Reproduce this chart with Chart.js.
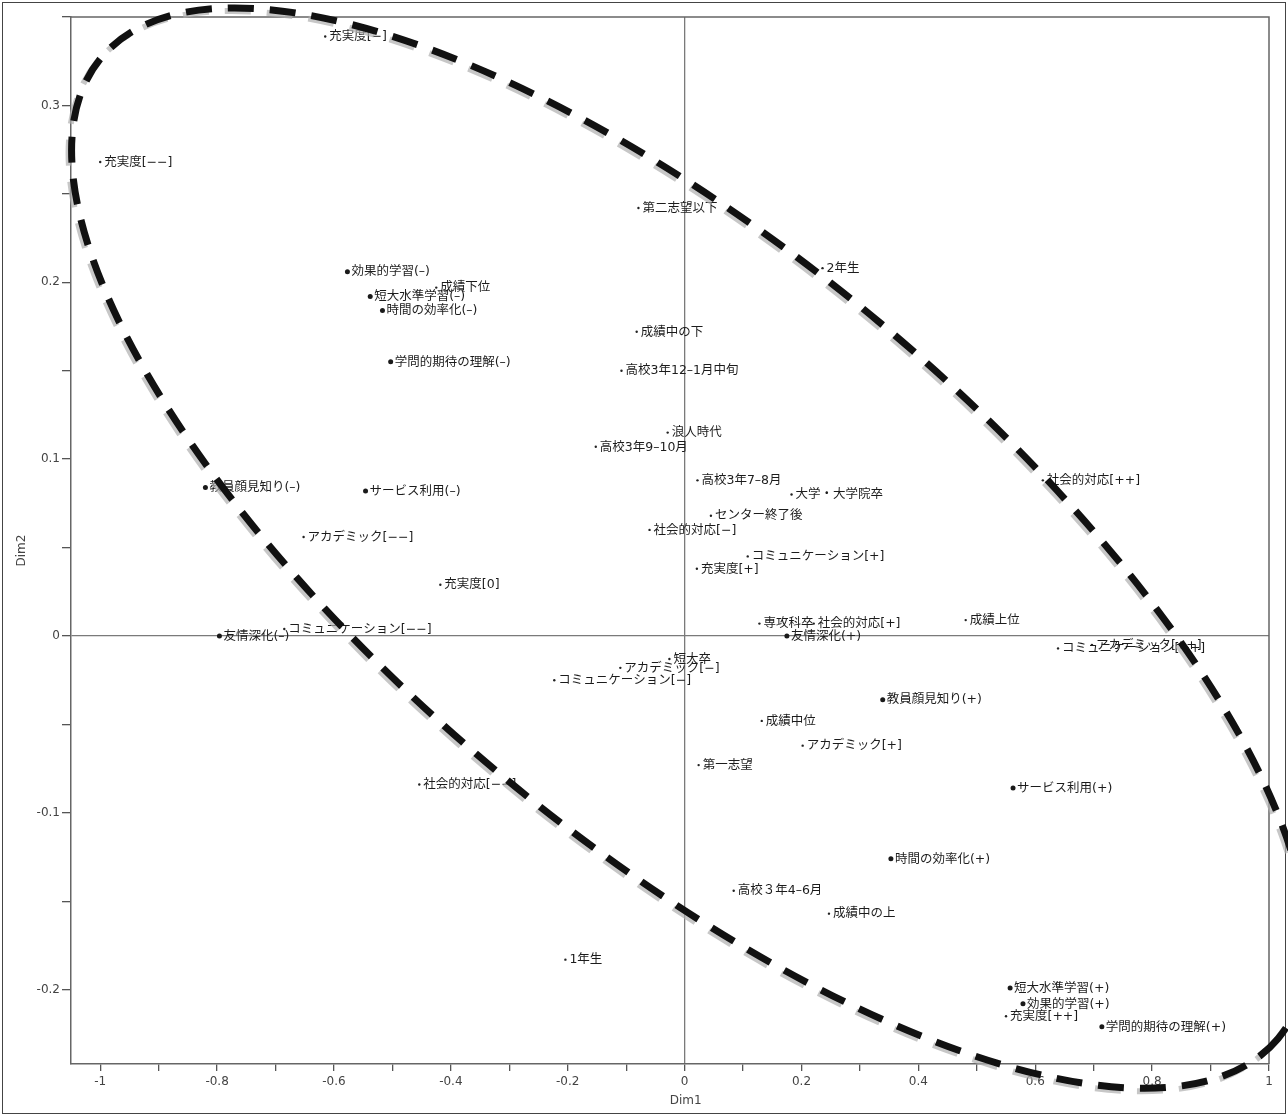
<!DOCTYPE html>
<html><head><meta charset="utf-8">
<script src="https://cdn.jsdelivr.net/npm/chart.js@4/dist/chart.umd.min.js"></script>
<style>
html,body{margin:0;padding:0;background:#fff;}
#wrap{position:relative;width:1288px;height:1115px;}
canvas{display:block;}
</style></head><body>
<div id="wrap"><canvas id="c" width="1288" height="1115"></canvas></div>
<script>
// Active categories (large dots)
const activeNames = ['効果的学習(–)','短大水準学習(–)','時間の効率化(–)','学問的期待の理解(–)','教員顔見知り(–)','サービス利用(–)','友情深化(–)','友情深化(+)','教員顔見知り(+)','サービス利用(+)','時間の効率化(+)','短大水準学習(+)','効果的学習(+)','学問的期待の理解(+)'];
const activeDim1 = [-0.577,-0.538,-0.517,-0.503,-0.820,-0.546,-0.796,0.175,0.339,0.562,0.353,0.557,0.579,0.714];
const activeDim2 = [0.206,0.192,0.184,0.155,0.084,0.082,0.000,0.000,-0.036,-0.086,-0.126,-0.199,-0.208,-0.221];

// Supplementary categories (small dots)
const suppNames = ['充実度[−]','充実度[−−]','第二志望以下','2年生','成績下位','成績中の下','高校3年12–1月中旬','浪人時代','高校3年9–10月','高校3年7–8月','大学・大学院卒','センター終了後','社会的対応[−]','社会的対応[++]','アカデミック[−−]','コミュニケーション[+]','充実度[+]','充実度[0]','成績上位','専攻科卒','社会的対応[+]','コミュニケーション[−−]','コミュニケーション[++]','アカデミック[++]','短大卒','アカデミック[−]','コミュニケーション[−]','成績中位','アカデミック[+]','第一志望','社会的対応[−−]','高校３年4–6月','成績中の上','1年生','充実度[++]'];
const suppDim1 = [-0.615,-1.000,-0.079,0.236,-0.425,-0.082,-0.108,-0.029,-0.152,0.022,0.183,0.045,-0.060,0.613,-0.652,0.108,0.021,-0.418,0.481,0.128,0.221,-0.685,0.639,0.697,-0.026,-0.110,-0.223,0.132,0.202,0.024,-0.454,0.084,0.247,-0.204,0.550];
const suppDim2 = [0.339,0.268,0.242,0.208,0.197,0.172,0.150,0.115,0.107,0.088,0.080,0.068,0.060,0.088,0.056,0.045,0.038,0.029,0.009,0.007,0.007,0.004,-0.007,-0.005,-0.013,-0.018,-0.025,-0.048,-0.062,-0.073,-0.084,-0.144,-0.157,-0.183,-0.215];

const xTicksLabelled = [-1,-0.8,-0.6,-0.4,-0.2,0,0.2,0.4,0.6,0.8,1];
const yTicksLabelled = [-0.2,-0.1,0,0.1,0.2,0.3];

const toPts = (xs, ys) => xs.map((x, i) => ({x: x, y: ys[i]}));
const near = (v, arr) => arr.some(t => Math.abs(t - v) < 1e-6);
const fmt = v => String(Number(v.toFixed(2)));

const LABEL_FONT = '12.5px "DejaVu Sans", "Noto Sans CJK JP", sans-serif';
const TICK_FONT = {family: '"DejaVu Sans", sans-serif', size: 12};

const labelPlugin = {
  id: 'pointLabels',
  afterDatasetsDraw(chart) {
    const ctx = chart.ctx;
    ctx.save();
    ctx.font = LABEL_FONT;
    ctx.fillStyle = '#1c1c1c';
    ctx.textBaseline = 'middle';
    ctx.textAlign = 'left';
    chart.data.datasets.forEach((ds, di) => {
      const meta = chart.getDatasetMeta(di);
      meta.data.forEach((el, i) => {
        ctx.fillText(ds.names[i], el.x + 4, el.y + 0.5);
      });
    });
    ctx.restore();
  }
};

const framePlugin = {
  id: 'frame',
  afterDraw(chart) {
    const ctx = chart.ctx;
    const a = chart.chartArea;
    const xs = chart.scales.x, ys = chart.scales.y;
    ctx.save();
    ctx.strokeStyle = '#666';
    ctx.lineWidth = 1.5;
    ctx.beginPath();
    ctx.moveTo(a.left, a.top); ctx.lineTo(a.right, a.top); ctx.lineTo(a.right, a.bottom);
    ctx.stroke();
    ctx.strokeStyle = '#444';
    ctx.lineWidth = 1;
    ctx.strokeRect(2.5, 2.5, 1283, 1111);
    ctx.fillStyle = '#444';
    ctx.font = '12px "DejaVu Sans", sans-serif';
    ctx.textAlign = 'center';
    ctx.textBaseline = 'middle';
    ctx.fillText('Dim1', xs.getPixelForValue(0) + 1, 1101);
    ctx.translate(22, (a.top + a.bottom) / 2 + 10);
    ctx.rotate(-Math.PI / 2);
    ctx.fillText('Dim2', 0, 0);
    ctx.restore();

    // dashed ellipse (decoration), centre in data coordinates
    const cx = xs.getPixelForValue(0.0086), cy = ys.getPixelForValue(0.0497);
    const ra = 766, rb = 295, rot = 39.8 * Math.PI / 180;
    ctx.save();
    ctx.setLineDash([26, 16]);
    ctx.lineCap = 'butt';
    ctx.strokeStyle = 'rgba(175,175,175,0.7)';
    ctx.lineWidth = 6;
    ctx.beginPath();
    ctx.ellipse(cx - 3, cy + 3, ra, rb, rot, 0, Math.PI * 2);
    ctx.stroke();
    ctx.strokeStyle = '#111';
    ctx.lineWidth = 7;
    ctx.beginPath();
    ctx.ellipse(cx, cy, ra, rb, rot, 0, Math.PI * 2);
    ctx.stroke();
    ctx.restore();
  }
};

new Chart(document.getElementById('c'), {
  type: 'scatter',
  data: {
    datasets: [
      {label: 'active', names: activeNames, data: toPts(activeDim1, activeDim2),
       pointRadius: 2.5, pointBackgroundColor: '#1a1a1a', pointBorderWidth: 0, pointHoverRadius: 2.5},
      {label: 'supplementary', names: suppNames, data: toPts(suppDim1, suppDim2),
       pointRadius: 1.2, pointBackgroundColor: '#222', pointBorderWidth: 0, pointHoverRadius: 1.2}
    ]
  },
  options: {
    responsive: false,
    animation: false,
    events: [],
    layout: {padding: {top: 17, right: 19, left: 0, bottom: 0}},
    plugins: {legend: {display: false}, tooltip: {enabled: false}},
    scales: {
      x: {
        type: 'linear', min: -1.05, max: 1.0,
        afterFit: s => { s.height = 51; },
        border: {display: true, color: '#666', width: 1.5},
        grid: {
          drawOnChartArea: true, drawTicks: true, tickLength: 7,
          color: c => (c.tick && Math.abs(c.tick.value) < 1e-6) ? '#7a7a7a' : 'rgba(0,0,0,0)',
          lineWidth: 1.3, tickColor: '#555', tickWidth: 1.3
        },
        ticks: {
          stepSize: 0.1, includeBounds: false, autoSkip: false, maxRotation: 0,
          padding: 4, color: '#444', font: TICK_FONT,
          callback: v => near(v, xTicksLabelled) ? fmt(v) : ''
        }
      },
      y: {
        type: 'linear', min: -0.242, max: 0.35,
        afterFit: s => { s.width = 71; },
        border: {display: true, color: '#666', width: 1.5},
        grid: {
          drawOnChartArea: true, drawTicks: true, tickLength: 9,
          color: c => (c.tick && Math.abs(c.tick.value) < 1e-6) ? '#7a7a7a' : 'rgba(0,0,0,0)',
          lineWidth: 1.3, tickColor: '#555', tickWidth: 1.3
        },
        ticks: {
          stepSize: 0.05, includeBounds: false, autoSkip: false,
          padding: 2, color: '#444', font: TICK_FONT,
          callback: v => near(v, yTicksLabelled) ? fmt(v) : ''
        }
      }
    }
  },
  plugins: [labelPlugin, framePlugin]
});
</script>
</body></html>
